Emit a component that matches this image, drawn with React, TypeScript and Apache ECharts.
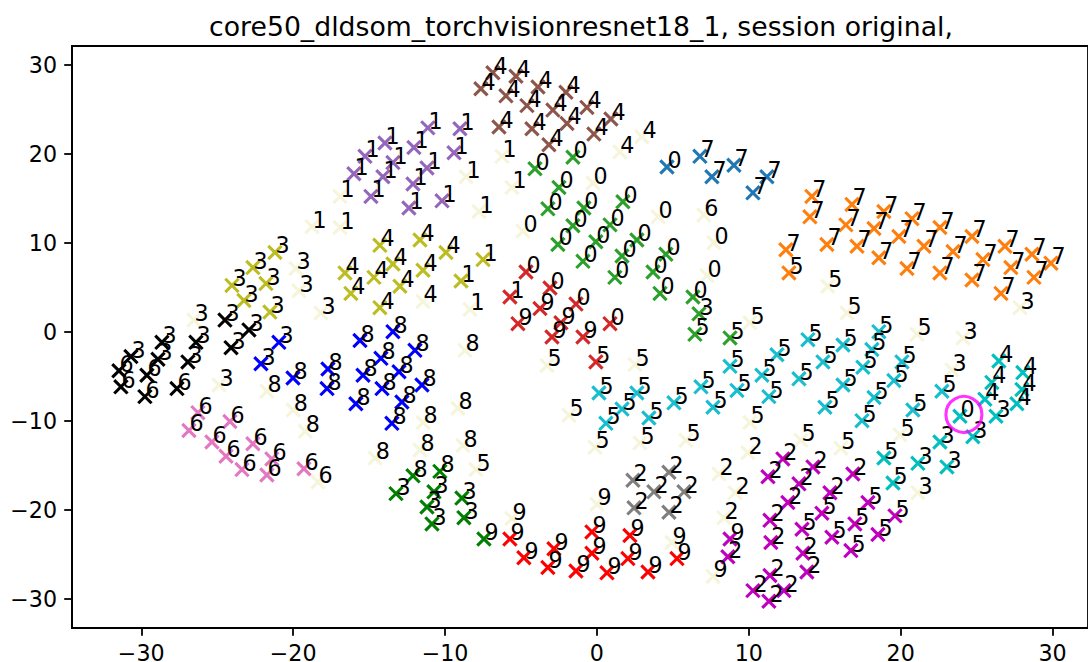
import React, { useEffect, useRef } from "react";
import * as echarts from "echarts";

type P = [number, number, string];

const title = "core50_dldsom_torchvisionresnet18_1, session original,";
const xTicks = [-30, -20, -10, 0, 10, 20, 30];
const yTicks = [-30, -20, -10, 0, 10, 20, 30];
const ringCenter = [24.16, -9.3];

const tabBlue: P[] = [[4.61,18.5,"0"],[6.78,19.7,"7"],[7.57,17.4,"7"],[9.02,18.7,"7"],[11.19,17.4,"7"],[10.27,15.6,"7"]];
const tabOrange: P[] = [[14.15,15.2,"7"],[14.02,12.9,"7"],[16.79,14.3,"7"],[16.39,12.0,"7"],[18.89,13.5,"7"],[18.24,11.6,"7"],[20.74,12.7,"7"],[19.88,10.7,"7"],[22.58,11.7,"7"],[21.53,9.6,"7"],[24.69,10.7,"7"],[23.44,9.0,"7"],[26.86,9.6,"7"],[25.41,8.1,"7"],[28.64,8.7,"7"],[27.25,7.2,"7"],[29.89,7.7,"7"],[28.77,6.1,"7"],[26.6,4.3,"7"],[24.69,5.8,"7"],[22.58,6.6,"7"],[20.41,7.1,"7"],[18.56,8.3,"7"],[17.12,9.6,"7"],[15.14,9.8,"7"],[12.44,9.2,"7"],[12.64,6.6,"5"]];
const tabGreen: P[] = [[-4.08,18.3,"0"],[-1.58,19.6,"0"],[-2.5,16.2,"0"],[-3.23,13.8,"0"],[-0.86,13.9,"0"],[1.71,14.6,"0"],[-1.58,11.9,"0"],[0.86,12.0,"0"],[-2.57,9.8,"0"],[-0.07,10.1,"0"],[2.63,10.3,"0"],[-0.92,7.9,"0"],[1.65,8.5,"0"],[1.18,6.1,"0"],[4.54,8.7,"0"],[3.69,6.7,"0"],[4.15,4.3,"0"],[6.32,3.9,"0"],[6.72,2.0,"3"],[6.45,-0.3,"5"],[8.76,-0.7,"5"]];
const tabRed: P[] = [[-4.67,6.7,"0"],[-3.09,4.9,"0"],[-1.38,3.1,"0"],[0.86,0.9,"0"],[-5.73,3.9,"1"],[-3.75,2.6,"9"],[-5.2,0.9,"9"],[-2.37,1.0,"9"],[-2.96,-0.6,"9"],[-0.92,-0.6,"9"],[-0.07,-3.4,"5"]];
const tabPurple: P[] = [[-13.96,21.2,"1"],[-15.27,19.7,"1"],[-16.0,17.75,"1"],[-14.09,17.4,"1"],[-13.43,19.0,"1"],[-14.88,15.2,"1"],[-11.13,22.9,"1"],[-9.02,22.8,"1"],[-12.05,20.7,"1"],[-9.41,20.1,"1"],[-11.19,18.4,"1"],[-12.11,16.6,"1"],[-10.2,14.7,"1"],[-12.38,13.9,"1"]];
const tabBrown: P[] = [[-6.85,29.1,"4"],[-7.64,27.3,"4"],[-5.33,28.7,"4"],[-5.99,26.5,"4"],[-3.88,27.5,"4"],[-4.61,25.4,"4"],[-2.04,26.9,"4"],[-2.9,24.9,"4"],[-0.66,25.2,"4"],[-1.97,23.4,"4"],[0.92,23.9,"4"],[-0.2,22.2,"4"],[-6.45,23.0,"4"],[-4.28,22.8,"4"],[-3.16,21.0,"4"]];
const tabPink: P[] = [[-26.27,-9.1,"6"],[-26.86,-11.1,"6"],[-25.35,-12.4,"6"],[-24.16,-10.1,"6"],[-24.42,-14.0,"6"],[-23.37,-15.5,"6"],[-22.65,-12.6,"6"],[-21.4,-14.3,"6"],[-21.73,-16.1,"6"],[-19.29,-15.4,"6"]];
const tabGray: P[] = [[2.37,-16.7,"2"],[4.74,-15.8,"2"],[3.75,-18.0,"2"],[5.73,-18.0,"2"],[2.44,-19.8,"2"],[4.74,-20.3,"2"]];
const tabOlive: P[] = [[-21.2,8.9,"3"],[-22.65,7.2,"3"],[-24.03,5.2,"3"],[-21.79,5.4,"3"],[-23.24,3.5,"3"],[-21.53,2.2,"3"],[-14.29,9.7,"4"],[-16.59,6.6,"4"],[-14.68,6.1,"4"],[-16.2,4.3,"4"],[-14.29,2.7,"4"],[-13.43,7.6,"4"],[-12.97,5.1,"4"],[-11.65,10.3,"4"],[-9.94,8.9,"4"],[-11.45,6.9,"4"],[-7.5,8.1,"1"],[-8.95,5.7,"1"]];
const tabCyan: P[] = [[0.13,-6.9,"5"],[2.63,-6.9,"5"],[1.65,-8.7,"5"],[0.59,-10.3,"5"],[3.42,-9.7,"5"],[5.07,-8.0,"5"],[6.85,-6.2,"5"],[7.64,-8.5,"5"],[9.22,-6.6,"5"],[8.76,-3.9,"5"],[10.86,-4.9,"5"],[11.32,-7.3,"5"],[11.85,-2.6,"5"],[13.89,-0.9,"5"],[13.3,-5.3,"5"],[14.88,-3.4,"5"],[16.2,-1.5,"5"],[18.56,0.0,"5"],[18.1,-2.0,"5"],[17.51,-4.0,"5"],[16.2,-6.0,"5"],[15.01,-8.5,"5"],[20.08,-3.4,"5"],[19.55,-5.5,"5"],[18.24,-7.4,"5"],[17.45,-10.0,"5"],[20.8,-8.8,"5"],[22.71,-6.7,"5"]];
const black: P[] = [[-24.49,1.3,"3"],[-22.91,0.2,"3"],[-24.09,-1.8,"3"],[-26.4,-1.2,"3"],[-26.93,-3.4,"3"],[-28.64,-1.2,"3"],[-28.9,-3.1,"3"],[-29.63,-4.9,"6"],[-30.68,-2.8,"3"],[-31.47,-4.4,"6"],[-31.34,-6.2,"6"],[-29.76,-7.3,"6"],[-27.65,-6.4,"6"]];
const blue: P[] = [[-20.94,-1.2,"3"],[-22.12,-3.6,"3"],[-20.01,-5.2,"8"],[-17.71,-4.2,"8"],[-17.77,-6.4,"8"],[-15.87,-8.1,"8"],[-15.6,-1.0,"8"],[-13.43,0.0,"8"],[-14.22,-3.0,"8"],[-15.4,-4.9,"8"],[-14.15,-6.4,"8"],[-13.5,-10.3,"8"],[-11.98,-2.1,"8"],[-13.03,-4.5,"8"],[-11.52,-6.0,"8"],[-12.84,-7.9,"8"]];
const darkGreen: P[] = [[-12.11,-16.2,"8"],[-10.34,-15.7,"8"],[-13.23,-18.2,"3"],[-10.73,-18.0,"3"],[-11.19,-19.7,"3"],[-10.86,-21.6,"3"],[-8.89,-18.7,"3"],[-8.76,-20.9,"3"],[-7.44,-23.3,"9"]];
const pureRed: P[] = [[-5.73,-23.3,"9"],[-4.81,-25.4,"9"],[-3.23,-26.5,"9"],[-2.83,-24.4,"9"],[-1.38,-26.9,"9"],[-0.33,-22.5,"9"],[-0.33,-24.9,"9"],[0.66,-27.1,"9"],[2.17,-22.9,"9"],[2.04,-25.5,"9"],[3.36,-27.0,"9"],[5.27,-25.5,"9"]];
const magenta: P[] = [[12.24,-14.3,"2"],[11.26,-16.3,"2"],[14.22,-15.2,"2"],[13.3,-17.1,"2"],[16.85,-16.0,"2"],[15.34,-18.1,"2"],[12.57,-19.2,"2"],[11.39,-21.2,"2"],[11.45,-23.7,"2"],[13.56,-24.9,"2"],[13.82,-27.0,"2"],[11.39,-27.4,"2"],[10.27,-29.1,"2"],[12.31,-29.1,"2"],[11.32,-30.3,"2"],[8.62,-25.3,"2"],[8.76,-23.3,"9"],[14.81,-20.4,"5"],[17.84,-19.2,"5"],[16.98,-21.6,"5"],[19.62,-20.7,"5"],[18.5,-22.8,"5"],[13.5,-22.2,"5"],[15.47,-23.1,"5"],[16.72,-24.6,"5"]];
const cyan: P[] = [[18.89,-14.2,"5"],[19.49,-17.0,"5"],[21.13,-14.8,"3"],[22.58,-12.4,"3"],[23.04,-15.2,"3"],[23.9,-9.5,"0"],[24.75,-11.8,"3"],[26.27,-9.5,"3"],[25.54,-7.6,"4"],[26.0,-5.7,"4"],[26.46,-3.3,"4"],[27.65,-8.1,"4"],[27.98,-6.5,"4"],[28.04,-4.6,"4"]];
const beige: P[] = [[-16.92,15.2,"1"],[-18.76,11.8,"1"],[-16.92,11.7,"1"],[-6.25,19.7,"1"],[-8.62,17.4,"1"],[-5.6,16.2,"1"],[-7.77,13.5,"1"],[-8.36,2.5,"1"],[1.51,20.2,"4"],[2.96,21.9,"4"],[-11.45,3.4,"4"],[-0.26,16.7,"0"],[-4.87,11.3,"0"],[4.02,12.9,"0"],[7.7,10.0,"0"],[7.24,6.3,"0"],[7.04,13.1,"6"],[-19.82,7.1,"3"],[-19.62,4.6,"3"],[-18.17,2.1,"3"],[-26.53,1.3,"3"],[-24.88,-6.0,"3"],[-21.73,-6.7,"8"],[-20.0,-8.8,"8"],[-19.2,-11.2,"8"],[-14.6,-14.2,"8"],[-18.37,-16.9,"6"],[-8.69,-2.1,"8"],[-9.15,-8.6,"8"],[-11.45,-10.2,"8"],[-11.65,-13.3,"8"],[-8.82,-12.8,"8"],[-7.97,-15.5,"5"],[-3.29,-3.8,"5"],[2.5,-3.7,"5"],[-1.84,-9.4,"5"],[-0.13,-13.0,"5"],[2.83,-12.5,"5"],[5.86,-12.2,"5"],[-5.6,-21.0,"9"],[0,-19.4,"9"],[4.94,-23.7,"9"],[7.64,-27.5,"9"],[15.2,5.1,"5"],[16.46,2.1,"5"],[10.07,1.0,"5"],[21.07,-0.3,"5"],[27.85,2.7,"3"],[24.1,-0.7,"3"],[10.07,-10.2,"5"],[13.43,-12.2,"5"],[16.06,-13.1,"5"],[19.95,-11.6,"5"],[23.37,-4.3,"3"],[21.13,-18.1,"3"],[9.94,-13.6,"2"],[8.03,-16.0,"2"],[9.09,-18.1,"2"],[8.36,-20.9,"2"]];

const groups: [P[], string][] = [
  [beige, "#f5f5dc"],
  [tabBlue, "#1f77b4"],
  [tabOrange, "#ff7f0e"],
  [tabGreen, "#2ca02c"],
  [tabRed, "#d62728"],
  [tabPurple, "#9467bd"],
  [tabBrown, "#8c564b"],
  [tabPink, "#e377c2"],
  [tabGray, "#7f7f7f"],
  [tabOlive, "#bcbd22"],
  [tabCyan, "#17becf"],
  [black, "#000000"],
  [blue, "#0000ff"],
  [darkGreen, "#008000"],
  [pureRed, "#ff0000"],
  [magenta, "#bf00bf"],
  [cyan, "#00bfbf"],
];

const FONT = "DejaVu Sans";
const axisBase = {
  type: "value" as const,
  splitLine: { show: false },
  axisLine: { show: true, onZero: false, lineStyle: { color: "#000", width: 1.8 } },
};
const fmt = (v: number) => (v < 0 ? "\u2212" + Math.abs(v) : String(v));

export default function App() {
  const ref = useRef<HTMLDivElement>(null);
  useEffect(() => {
    document.body.style.margin = "0";
    const chart = echarts.init(ref.current!, undefined, { renderer: "svg" });
    chart.setOption({
      animation: false,
      backgroundColor: "#fff",
      title: {
        text: title,
        left: 576,
        top: 8,
        textAlign: "center",
        textStyle: { fontFamily: FONT, fontSize: 26.7, fontWeight: "normal", color: "#000" },
      },
      grid: { left: 72, top: 46, right: 0, bottom: 34, outerBoundsMode: "none", show: true, borderColor: "#000", borderWidth: 1.8, backgroundColor: "transparent" },
      xAxis: {
        ...axisBase,
        min: -34.56,
        max: 32.33,
        axisTick: { show: true, customValues: xTicks, length: 7.8, lineStyle: { color: "#000", width: 1.8 } },
        axisLabel: { customValues: xTicks, formatter: fmt, fontFamily: FONT, fontSize: 22.2, color: "#000", margin: 14 },
      },
      yAxis: {
        ...axisBase,
        min: -33.3,
        max: 32.1,
        axisTick: { show: true, customValues: yTicks, length: 7.8, lineStyle: { color: "#000", width: 1.8 } },
        axisLabel: { customValues: yTicks, formatter: fmt, fontFamily: FONT, fontSize: 22.2, color: "#000", margin: 15 },
      },
      series: [
        ...groups.map(([pts, color]) => ({
          type: "scatter",
          data: pts,
          symbol: "path://M0 0L10 10M10 0L0 10",
          symbolSize: 13.3,
          silent: true,
          clip: false,
          itemStyle: { color: "transparent", borderColor: color, borderWidth: 3.1, opacity: 1 },
          label: {
            show: true,
            position: "inside",
            align: "left",
            verticalAlign: "bottom",
            offset: [0.5, 4],
            formatter: (p: any) => p.value[2],
            fontFamily: FONT,
            fontSize: 22.2,
            color: "#000",
          },
          z: 2,
        })),
        {
          type: "scatter",
          data: [ringCenter],
          symbol: "circle",
          symbolSize: 36,
          silent: true,
          itemStyle: { color: "transparent", borderColor: "#ff00ff", borderWidth: 3.1 },
          z: 3,
        },
      ],
    });
    return () => chart.dispose();
  }, []);
  return <div ref={ref} style={{ width: 1088, height: 662 }} />;
}
